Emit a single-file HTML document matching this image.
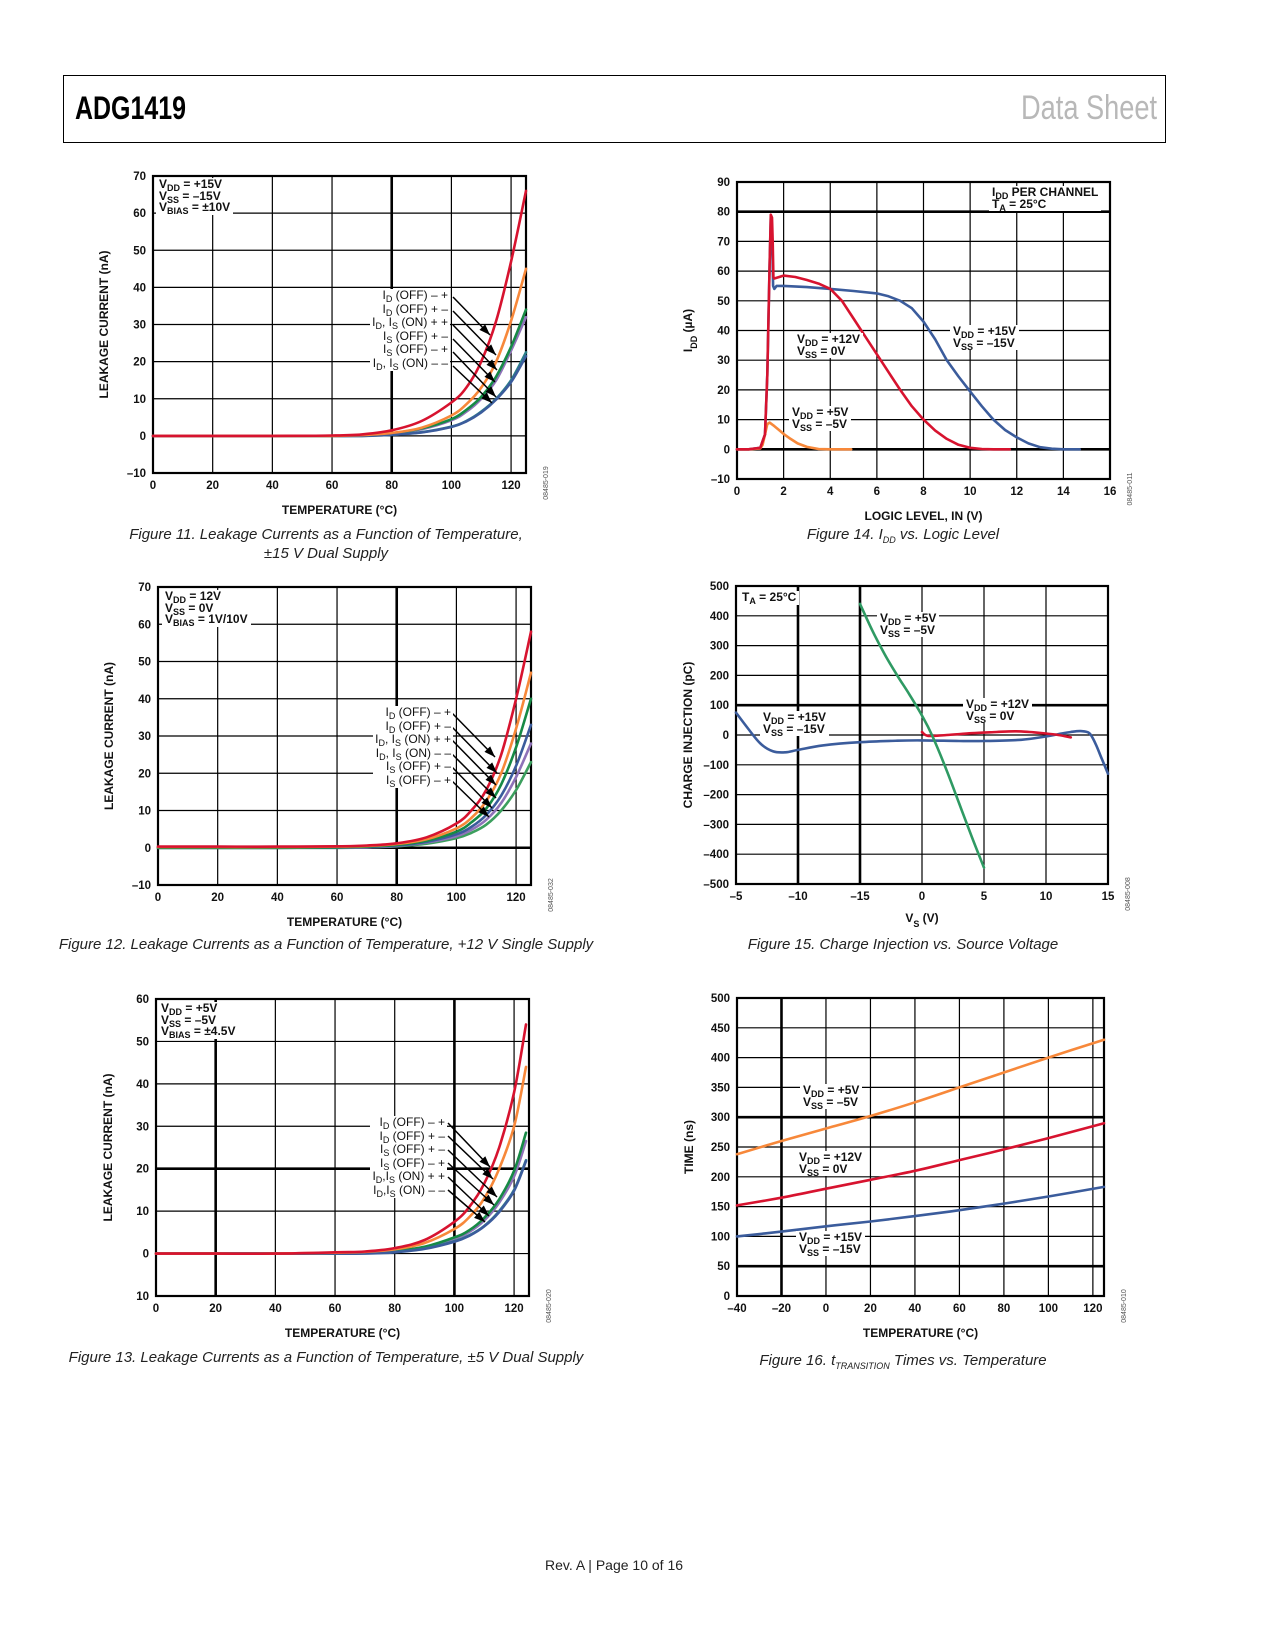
<!DOCTYPE html>
<html><head><meta charset="utf-8">
<style>
body{margin:0;background:#fff;}
#page{position:relative;width:1275px;height:1650px;overflow:hidden;background:#fff;font-family:"Liberation Sans",Arial,sans-serif;}
svg{position:absolute;left:0;top:0;}
.ann{position:absolute;background:#fff;font-weight:bold;font-size:12px;line-height:11.5px;color:#111;padding:1px 3px;white-space:nowrap;}
.ann sub{font-size:9px;vertical-align:-3px;line-height:0;}
.lbl{position:absolute;font-size:12px;line-height:13.6px;text-align:right;color:#111;background:#fff;padding:0 2px;white-space:nowrap;}
.lbl sub{font-size:9px;vertical-align:-3px;line-height:0;}
.cap{position:absolute;font-style:italic;font-size:15px;color:#222;text-align:center;transform:translateX(-50%);white-space:nowrap;}
.cap sub{font-size:9px;font-style:italic;}
</style></head>
<body>
<div id="page">
<div style="position:absolute;left:63px;top:75px;width:1101px;height:66px;border:1.6px solid #000;"></div>
<div style="position:absolute;left:75px;top:90px;font-size:32px;font-weight:bold;transform:scaleX(0.78);transform-origin:left;">ADG1419</div>
<div style="position:absolute;right:118px;top:89px;font-size:34px;color:#b8b8b8;transform:scaleX(0.8);transform-origin:right;">Data Sheet</div>

<svg id="svg" width="1275" height="1650"></svg>

<div class="ann" style="left:156px;top:178px;">V<sub>DD</sub> = +15V<br>V<sub>SS</sub> = –15V<br>V<sub>BIAS</sub> = ±10V</div>
<div class="lbl" style="right:825px;top:289px;">I<sub>D</sub> (OFF) – +<br>I<sub>D</sub> (OFF) + –<br>I<sub>D</sub>, I<sub>S</sub> (ON) + +<br>I<sub>S</sub> (OFF) + –<br>I<sub>S</sub> (OFF) – +<br>I<sub>D</sub>, I<sub>S</sub> (ON) – –</div>
<div class="ann" style="left:162px;top:590px;">V<sub>DD</sub> = 12V<br>V<sub>SS</sub> = 0V<br>V<sub>BIAS</sub> = 1V/10V</div>
<div class="lbl" style="right:822px;top:706px;">I<sub>D</sub> (OFF) – +<br>I<sub>D</sub> (OFF) + –<br>I<sub>D</sub>, I<sub>S</sub> (ON) + +<br>I<sub>D</sub>, I<sub>S</sub> (ON) – –<br>I<sub>S</sub> (OFF) + –<br>I<sub>S</sub> (OFF) – +</div>
<div class="ann" style="left:158px;top:1002px;">V<sub>DD</sub> = +5V<br>V<sub>SS</sub> = –5V<br>V<sub>BIAS</sub> = ±4.5V</div>
<div class="lbl" style="right:828px;top:1116px;">I<sub>D</sub> (OFF) – +<br>I<sub>D</sub> (OFF) + –<br>I<sub>S</sub> (OFF) + –<br>I<sub>S</sub> (OFF) – +<br>I<sub>D</sub>,I<sub>S</sub> (ON) + +<br>I<sub>D</sub>,I<sub>S</sub> (ON) – –</div>
<div class="ann" style="left:989px;top:186px;">I<sub>DD</sub> PER CHANNEL<br>T<sub>A</sub> = 25°C</div>
<div class="ann" style="left:794px;top:333px;">V<sub>DD</sub> = +12V<br>V<sub>SS</sub> = 0V</div>
<div class="ann" style="left:950px;top:325px;">V<sub>DD</sub> = +15V<br>V<sub>SS</sub> = –15V</div>
<div class="ann" style="left:789px;top:406px;">V<sub>DD</sub> = +5V<br>V<sub>SS</sub> = –5V</div>
<div class="ann" style="left:739px;top:591px;">T<sub>A</sub> = 25°C</div>
<div class="ann" style="left:877px;top:612px;">V<sub>DD</sub> = +5V<br>V<sub>SS</sub> = –5V</div>
<div class="ann" style="left:760px;top:711px;">V<sub>DD</sub> = +15V<br>V<sub>SS</sub> = –15V</div>
<div class="ann" style="left:963px;top:698px;">V<sub>DD</sub> = +12V<br>V<sub>SS</sub> = 0V</div>
<div class="ann" style="left:800px;top:1084px;">V<sub>DD</sub> = +5V<br>V<sub>SS</sub> = –5V</div>
<div class="ann" style="left:796px;top:1151px;">V<sub>DD</sub> = +12V<br>V<sub>SS</sub> = 0V</div>
<div class="ann" style="left:796px;top:1231px;">V<sub>DD</sub> = +15V<br>V<sub>SS</sub> = –15V</div>

<div class="cap" style="left:326px;top:525px;line-height:19px;">Figure 11. Leakage Currents as a Function of Temperature,<br>±15 V Dual Supply</div>
<div class="cap" style="left:903px;top:526px;">Figure 14. I<sub>DD</sub> vs. Logic Level</div>
<div class="cap" style="left:326px;top:936px;">Figure 12. Leakage Currents as a Function of Temperature, +12 V Single Supply</div>
<div class="cap" style="left:903px;top:936px;">Figure 15. Charge Injection vs. Source Voltage</div>
<div class="cap" style="left:326px;top:1349px;">Figure 13. Leakage Currents as a Function of Temperature, ±5 V Dual Supply</div>
<div class="cap" style="left:903px;top:1352px;">Figure 16. t<sub>TRANSITION</sub> Times vs. Temperature</div>
<div style="position:absolute;left:614px;top:1557px;transform:translateX(-50%);font-size:14px;color:#222;">Rev. A | Page 10 of 16</div>
</div>

<script>
const NS='http://www.w3.org/2000/svg';
const svg=document.getElementById('svg');

// ---------- data ----------
const leakTemps=[0,20,40,60,70,80,90,100,105,110,115,120,125];
const f11Red=[0,0,0,0.1,0.4,1.5,4,9,13,20,31,47,66];
const f11Orange=[0,0,0,0,0.2,0.8,2.2,5.5,8.5,13,20,31,45];
const f11Green=[0,0,0,0,0.1,0.7,2,4.5,7,10.5,16,24,34];
const f11Purple=[0,0,0,0,0.1,0.6,1.8,4.2,6.5,10,15,23,32];
const f11Teal=[0,0,0,0,0,0.3,1,2.5,4,6.5,10,15,22.5];
const f11Blue=[0,0,0,0,0,0.3,0.9,2.4,3.9,6.3,9.8,14.5,21.5];

const f12Red=[0.3,0.3,0.3,0.4,0.6,1.2,2.8,6.5,10,15.5,25,40,58];
const f12Orange=[0.2,0.2,0.2,0.3,0.5,1,2.3,5.2,8,12.5,20,32,47];
const f12Green=[0,0,0,0.1,0.3,0.8,1.9,4.3,6.8,10.5,17,27,40];
const f12Blue=[0,0,0,0.1,0.2,0.6,1.6,3.6,5.6,8.8,14,22,33];
const f12Purple=[0,0,0,0,0.1,0.5,1.4,3.1,4.8,7.5,12,19,28];
const f12Lgreen=[0,0,0,0,0.1,0.4,1.1,2.6,4,6.2,10,15.5,23];

const f13Temps=[0,20,40,60,70,80,90,100,105,110,115,120,124];
const f13Red=[0,0,0,0.3,0.5,1.3,3.2,7.5,11,16.5,25,38,54];
const f13Orange=[0,0,0,0.2,0.4,1,2.5,5.8,8.6,13,20,30,44];
const f13Green=[0,0,0,0,0.2,0.6,1.6,3.8,5.5,8.4,12.8,19.5,28.5];
const f13Purple=[0,0,0,0,0.1,0.5,1.5,3.5,5.1,7.8,12,18.2,26.5];
const f13Teal=[0,0,0,0,0.1,0.4,1.2,2.9,4.3,6.5,10,15,22];
const f13Blue=[0,0,0,0,0,0.3,1.1,2.8,4.2,6.4,9.8,14.8,21.8];

const f14BlueX=[0,0.5,1.0,1.2,1.3,1.4,1.45,1.5,1.55,1.6,1.7,2,3,4,5,6,6.5,7,7.5,8,8.5,9,9.5,10,10.5,11,11.5,12,12.5,13,13.5,14,14.7];
const f14BlueY=[0,0,0.5,5,25,62,78,74,55,54,55,55,54.6,54,53.3,52.5,51.5,50,47.5,43,37,30,24.5,19.5,14.5,10,6.5,4,2,0.7,0.2,0,0];
const f14RedX=[0,0.5,1.0,1.2,1.3,1.4,1.45,1.5,1.53,1.56,1.6,2,2.5,3,3.5,4,4.5,5,5.5,6,6.5,7,7.5,8,8.5,9,9.5,10,10.5,11,11.7];
const f14RedY=[0,0,0.5,5,25,62,79,78,70,58,57.5,58.5,58,57,55.8,54,50,44,38,32,26,20,14.5,10,6.3,3.5,1.5,0.5,0.1,0,0];
const f14OrangeX=[0,0.5,1.0,1.1,1.2,1.3,1.4,1.6,1.8,2,2.3,2.6,3,3.5,4,4.9];
const f14OrangeY=[0,0,0.3,1.5,5,8.5,9,7.8,6.5,5.2,3.5,2,0.8,0.1,0,0];

const f15BlueX=[-15,-14,-13,-12,-11,-10,-8,-5,-2,0,3,5,8,10,11,12,12.8,13.5,14,14.5,15];
const f15BlueY=[75,20,-30,-55,-58,-50,-35,-24,-19,-18,-20,-20,-16,-5,3,10,13,6,-30,-80,-130];
const f15GreenX=[-5,-4,-3,-2,-1,0,0.8,2,3,4,5];
const f15GreenY=[440,350,270,200,135,65,0,-120,-230,-340,-445];
const f15RedX=[0,0.5,2,4,6,7,8,9,10,11,12];
const f15RedY=[10,-3,0,6,10,12,12,9,5,0,-8];

const f16Temps=[-40,-20,0,20,40,60,80,100,125];
const f16Orange=[238,260,281,302,325,350,375,400,430];
const f16Red=[152,165,180,195,210,228,246,265,290];
const f16Blue=[100,108,117,125,134,144,155,167,183];

const leakXTicks=[0,20,40,60,80,100,120];
const leakXLabels=['0','20','40','60','80','100','120'];
const leak70Ticks=[-10,0,10,20,30,40,50,60,70];
const leak70Labels=['–10','0','10','20','30','40','50','60','70'];
const leak60Ticks=[-10,0,10,20,30,40,50,60];
const leak60Labels=['10','0','10','20','30','40','50','60'];
const f14XTicks=[0,2,4,6,8,10,12,14,16];
const f14YTicks=[-10,0,10,20,30,40,50,60,70,80,90];
const f14YLabels=['–10','0','10','20','30','40','50','60','70','80','90'];
const f15XTicks=[-15,-10,-5,0,5,10,15];
const f15XLabels=['–5','–10','–15','0','5','10','15'];
const f15YTicks=[-500,-400,-300,-200,-100,0,100,200,300,400,500];
const f15YLabels=['–500','–400','–300','–200','–100','0','100','200','300','400','500'];
const f16XTicks=[-40,-20,0,20,40,60,80,100,120];
const f16XLabels=['–40','–20','0','20','40','60','80','100','120'];
const f16YTicks=[0,50,100,150,200,250,300,350,400,450,500];

// ---------- helpers ----------
function mk(tag,attrs){const e=document.createElementNS(NS,tag);for(const k in attrs)e.setAttribute(k,attrs[k]);svg.appendChild(e);return e;}
function scales(b,xd,yd){return {x:v=>b.l+(v-xd[0])/(xd[1]-xd[0])*(b.r-b.l),y:v=>b.b-(v-yd[0])/(yd[1]-yd[0])*(b.b-b.t)};}
function catmull(p){let d='M'+p[0][0].toFixed(1)+','+p[0][1].toFixed(1);for(let i=0;i<p.length-1;i++){const p0=p[i-1]||p[i],p1=p[i],p2=p[i+1],p3=p[i+2]||p2;const c1=[p1[0]+(p2[0]-p0[0])/6,p1[1]+(p2[1]-p0[1])/6],c2=[p2[0]-(p3[0]-p1[0])/6,p2[1]-(p3[1]-p1[1])/6];d+='C'+c1[0].toFixed(1)+','+c1[1].toFixed(1)+' '+c2[0].toFixed(1)+','+c2[1].toFixed(1)+' '+p2[0].toFixed(1)+','+p2[1].toFixed(1);}return d;}
function text(x,y,s,anchor,size,name){const t=mk('text',{x:x,y:y,'text-anchor':anchor,'font-size':size,'font-weight':'bold','font-family':'Liberation Sans, Arial, sans-serif',fill:'#111'});t.textContent=s;


return t;}

function frame(id,b,sc,xt,xl,yt,yl,thickX,thickY,xTitle,yTitle,yTitleX,code){
  xt.forEach((v,i)=>{const x=sc.x(v);const l=mk('line',{x1:x,x2:x,y1:b.t,y2:b.b,stroke:'#000','stroke-width':thickX.includes(v)?2.6:1.2});
    
    
    text(x,b.b+16,xl[i],'middle',11.5,id+'-x-tick');});
  yt.forEach((v,i)=>{const y=sc.y(v);const l=mk('line',{x1:b.l,x2:b.r,y1:y,y2:y,stroke:'#000','stroke-width':thickY.includes(v)?2.6:1.2});
    
    
    text(b.l-7,y+4,yl[i],'end',11.5,id+'-y-tick');});
  const r=mk('rect',{x:b.l,y:b.t,width:b.r-b.l,height:b.b-b.t,fill:'none',stroke:'#000','stroke-width':2.2});
  
  
  if(xTitle)text((b.l+b.r)/2,b.b+41,xTitle,'middle',12,id+'-x-axis-title');
  const yt2=text(0,0,'','middle',12,id+'-y-axis-title');
  yt2.setAttribute('transform','translate('+yTitleX+','+((b.t+b.b)/2)+') rotate(-90)');
  yt2.innerHTML=yTitle;
  const c=text(0,0,code,'middle',7,id+'-figure-code');
  c.setAttribute('font-weight','normal');c.setAttribute('fill','#555');
  c.setAttribute('transform','translate('+(b.r+22)+','+(b.b+10)+') rotate(-90)');
}
function series(sc,xs,ys,color,name,smooth){
  const pts=xs.map((v,i)=>[sc.x(v),sc.y(ys[i])]);
  const p=mk('path',{d:smooth?catmull(pts):'M'+pts.map(q=>q[0].toFixed(1)+','+q[1].toFixed(1)).join('L'),fill:'none',stroke:color,'stroke-width':2.6,'stroke-linejoin':'round','stroke-linecap':'round'});
  
  
}
function arrow(x1,y1,x2,y2,name){
  const l=mk('line',{x1:x1,y1:y1,x2:x2,y2:y2,stroke:'#000','stroke-width':1.5});
  
  
  const a=Math.atan2(y2-y1,x2-x1),L=11,W=4;
  const bx=x2-L*Math.cos(a),by=y2-L*Math.sin(a);
  const h=mk('polygon',{points:x2+','+y2+' '+(bx+W*Math.sin(a))+','+(by-W*Math.cos(a))+' '+(bx-W*Math.sin(a))+','+(by+W*Math.cos(a)),fill:'#000'});
  
  
}
const RED='#d7132f',ORG='#f7883a',GRN='#168a45',PUR='#8e72b8',TEAL='#2a8089',BLU='#3b5c9c',LGR='#3c9f5e';

const b11={l:153,r:526,t:176,b:473};const s11=scales(b11,[0,125],[-10,70]);
frame('fig11',b11,s11,leakXTicks,leakXLabels,leak70Ticks,leak70Labels,[80],[],'TEMPERATURE (°C)','LEAKAGE CURRENT (nA)',108,'08485-019');
[[f11Purple,PUR],[f11Green,GRN],[f11Teal,TEAL],[f11Blue,BLU],[f11Orange,ORG],[f11Red,RED]].forEach((s,i)=>series(s11,leakTemps,s[0],s[1],'fig11-series-'+i,true));
[[297,490,335],[311,496,355],[325,497,370],[339,495,382],[352,496,397],[366,492,403]].forEach((a,i)=>arrow(453,a[0],a[1],a[2],'fig11-arrow-'+i));

const b12={l:158,r:531,t:587,b:885};const s12=scales(b12,[0,125],[-10,70]);
frame('fig12',b12,s12,leakXTicks,leakXLabels,leak70Ticks,leak70Labels,[80],[0],'TEMPERATURE (°C)','LEAKAGE CURRENT (nA)',113,'08485-032');
[[f12Lgreen,LGR],[f12Purple,PUR],[f12Blue,BLU],[f12Green,GRN],[f12Orange,ORG],[f12Red,RED]].forEach((s,i)=>series(s12,leakTemps,s[0],s[1],'fig12-series-'+i,true));
[[713,495,757],[727,497,773],[740,496,785],[754,496,798],[767,492,808],[781,489,817]].forEach((a,i)=>arrow(452,a[0],a[1],a[2],'fig12-arrow-'+i));

const b13={l:156,r:529,t:999,b:1296};const s13=scales(b13,[0,125],[-10,60]);
frame('fig13',b13,s13,leakXTicks,leakXLabels,leak60Ticks,leak60Labels,[20,100],[20],'TEMPERATURE (°C)','LEAKAGE CURRENT (nA)',112,'08485-020');
[[f13Purple,PUR],[f13Green,GRN],[f13Teal,TEAL],[f13Blue,BLU],[f13Orange,ORG],[f13Red,RED]].forEach((s,i)=>series(s13,f13Temps,s[0],s[1],'fig13-series-'+i,true));
[[1123,490,1167],[1136,493,1179],[1150,497,1197],[1163,494,1205],[1177,489,1216],[1190,485,1222]].forEach((a,i)=>arrow(448,a[0],a[1],a[2],'fig13-arrow-'+i));

const b14={l:737,r:1110,t:182,b:479};const s14=scales(b14,[0,16],[-10,90]);
frame('fig14',b14,s14,f14XTicks,f14XTicks.map(String),f14YTicks,f14YLabels,[],[80,0],'LOGIC LEVEL, IN (V)','I<tspan baseline-shift="sub" font-size="9">DD</tspan> (µA)',692,'08485-011');
series(s14,f14BlueX,f14BlueY,BLU,'fig14-series-15v',false);
series(s14,f14OrangeX,f14OrangeY,ORG,'fig14-series-5v',false);
series(s14,f14RedX,f14RedY,RED,'fig14-series-12v',false);

const b15={l:736,r:1108,t:586,b:884};const s15=scales(b15,[-15,15],[-500,500]);
frame('fig15',b15,s15,f15XTicks,f15XLabels,f15YTicks,f15YLabels,[-10,-5],[100],'','CHARGE INJECTION (pC)',692,'08485-008');
const xt15=text((b15.l+b15.r)/2,b15.b+38,'','middle',12,'fig15-x-axis-title');
xt15.innerHTML='V<tspan baseline-shift="sub" font-size="9">S</tspan> (V)';
series(s15,f15BlueX,f15BlueY,BLU,'fig15-series-15v',true);
series(s15,f15RedX,f15RedY,RED,'fig15-series-12v',true);
series(s15,f15GreenX,f15GreenY,'#2f9a63','fig15-series-5v',true);

const b16={l:737,r:1104,t:998,b:1296};const s16=scales(b16,[-40,125],[0,500]);
frame('fig16',b16,s16,f16XTicks,f16XLabels,f16YTicks,f16YTicks.map(String),[-20],[300,50],'TEMPERATURE (°C)','TIME (ns)',693,'08485-010');
series(s16,f16Temps,f16Orange,ORG,'fig16-series-5v',true);
series(s16,f16Temps,f16Red,RED,'fig16-series-12v',true);
series(s16,f16Temps,f16Blue,BLU,'fig16-series-15v',true);
</script>
</body></html>
